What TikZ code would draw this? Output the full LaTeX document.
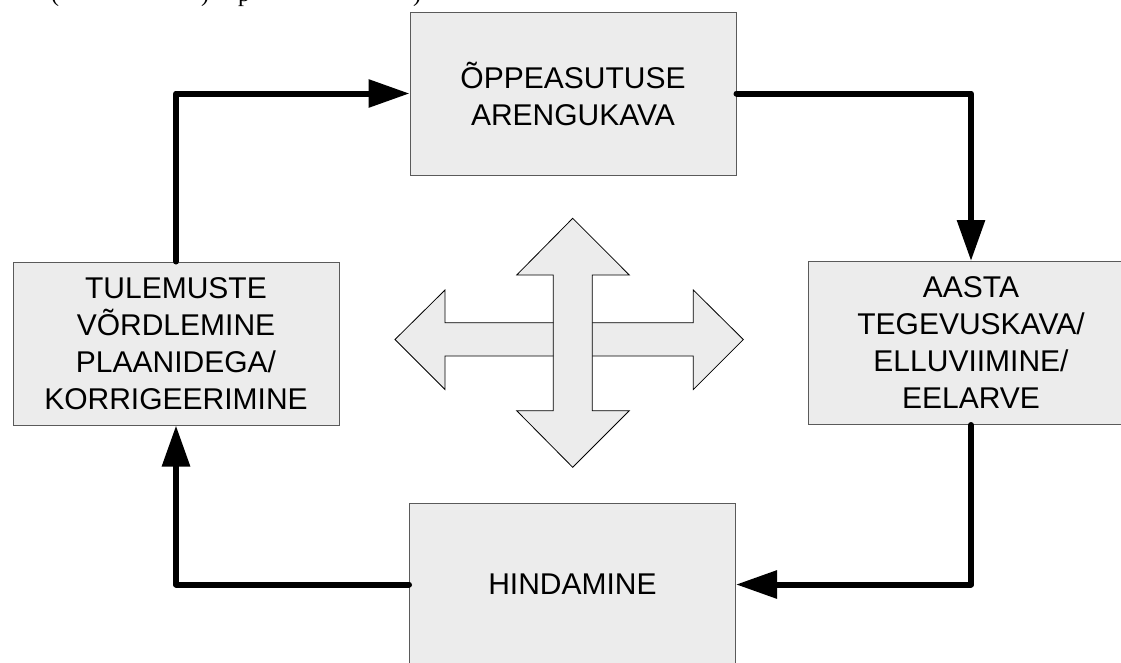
\documentclass[tikz,border=0pt]{standalone}
\usepackage{fontspec}
\setmainfont{Liberation Sans}
\newfontfamily\fragfont{Liberation Serif}
\usetikzlibrary{arrows.meta}
\definecolor{boxfill}{HTML}{ECECEC}
\definecolor{boxline}{HTML}{5A5A5A}
\tikzset{
  stagebox/.style={draw=boxline, line width=1pt, fill=boxfill, minimum width=326pt, minimum height=163pt,
    inner sep=0pt, align=center, font=\fontsize{30}{37}\selectfont},
  conn/.style={line width=6pt, line cap=round, line join=round, -{Triangle[length=41pt,width=27pt]}},
  crossarrow/.style={draw=black, line width=0.8pt, fill=boxfill, line join=miter},
  fragtext/.style={anchor=base, inner sep=0pt, font=\fragfont\fontsize{24}{28}\selectfont}
}
\begin{document}
\begin{tikzpicture}[x=1pt, y=-1pt]
\useasboundingbox (0,0) rectangle (1121,662);
\begin{scope}
\clip (0,0) rectangle (1121,662);
% text fragments cut at the top edge
\node[fragtext] (f1) at (55,1.5) {(};
\node[fragtext] (f2) at (205,1.5) {)};
\node[fragtext] (f3) at (244,1.5) {p};
\node[fragtext] (f4) at (417,1.5) {)};
% boxes
\node[stagebox] (T) at (573,93.5) {ÕPPEASUTUSE\\ARENGUKAVA};
\node[stagebox] (L) at (176,343.5) {TULEMUSTE\\VÕRDLEMINE\\PLAANIDEGA/\\KORRIGEERIMINE};
\node[stagebox] (R) at (971,343) {AASTA\\TEGEVUSKAVA/\\ELLUVIIMINE/\\EELARVE};
\node[stagebox] (B) at (572.5,584.5) {HINDAMINE};
% central cross arrows
\draw[crossarrow] (395,339.5) -- (445,290) -- (445,322.7) -- (693.3,322.7) -- (693.3,290) -- (743.3,339.5)
  -- (693.3,389.5) -- (693.3,356) -- (445,356) -- (445,389.5) -- cycle;
\draw[crossarrow] (572.7,218.3) -- (629.3,275) -- (592.3,275) -- (592.3,410.7) -- (629.3,410.7) -- (572.7,467.3)
  -- (516.7,410.7) -- (553.3,410.7) -- (553.3,275) -- (516.7,275) -- cycle;
% cycle connectors
\draw[conn] (L.north) |- (T.west);
\draw[conn] (T.east) -| (R.north);
\draw[conn] (R.south) |- (B.east);
\draw[conn] (B.west) -| (L.south);
\end{scope}
\end{tikzpicture}
\end{document}
